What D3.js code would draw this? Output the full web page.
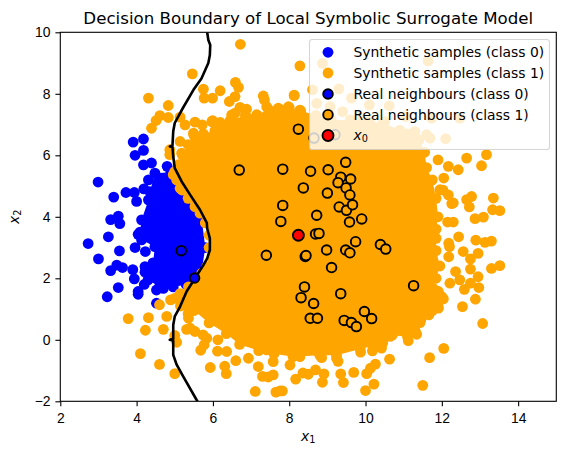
<!DOCTYPE html>
<html>
<head>
<meta charset="utf-8">
<script src="https://cdn.jsdelivr.net/npm/d3@7"></script>
<style>
  html, body { margin: 0; background: #fff; }
  svg { display: block; font-family: "DejaVu Sans", sans-serif; }
  .tick text { font-size: 13.9px; fill: #000; }
</style>
</head>
<body>
<svg id="chart" width="566" height="455"></svg>
<script>
// Outer edge of the overplotted class 0 mass, then its scattered samples
const blueRim = [[5.8,3.0],[5.7,4.0],[5.1,4.9],[4.9,5.45],[4.48,5.42],[4.35,4.82],[4.31,4.55],[4.13,3.9],[4.09,3.5],[4.13,3.25],[4.48,3.03],[4.43,2.5],[4.22,2.2],[4.3,1.95],[4.6,1.72],[4.96,1.72],[5.3,1.8],[5.7,2.2]];
const blueScatter = [[2.99,5.13],[3.40,4.64],[3.72,4.79],[3.94,4.79],[3.91,6.43],[4.18,6.53],[4.18,6.16],[3.96,6.0],[4.18,5.69],[4.39,5.75],[4.80,5.64],[4.31,5.2],[4.19,4.91],[4.0,4.5],[3.32,3.91],[3.52,4.02],[3.56,3.78],[2.73,3.13],[3.26,3.35],[3.55,2.89],[3.0,2.63],[3.96,3.0],[4.23,2.87],[3.48,2.43],[3.63,2.35],[3.32,2.25],[3.9,2.28],[3.94,1.98],[3.52,1.7],[3.23,1.4],[4.04,1.57],[4.04,1.48],[4.2,1.8],[4.52,1.62],[4.7,1.67],[4.52,1.19],[4.22,2.38],[4.04,3.43]];

// Outer edge of the overplotted class 1 mass, then its scattered samples
const orangeRim = [[5.9,3.0],[5.9,3.4],[5.8,3.8],[5.53,4.33],[5.35,4.6],[5.19,4.87],[5.05,5.2],[5.0,5.47],[5.1,5.7],[5.2,6.0],[5.35,6.35],[5.5,6.65],[5.75,6.7],[6.05,6.8],[6.3,6.95],[6.5,7.15],[6.85,7.3],[7.15,7.3],[7.45,7.5],[7.75,7.5],[8.0,7.55],[8.3,7.45],[8.7,7.3],[9.1,7.15],[9.6,7.15],[10.1,7.1],[10.46,7.05],[10.9,6.82],[11.4,6.5],[11.55,6.1],[11.6,5.6],[11.75,5.2],[11.85,4.6],[11.9,4.0],[11.85,3.6],[11.85,3.3],[11.85,2.9],[11.95,2.4],[11.85,2.0],[11.75,1.7],[11.85,1.6],[12.0,1.4],[11.9,1.1],[11.75,0.95],[11.45,0.65],[11.3,0.3],[11.1,0.1],[10.7,0.15],[10.45,-0.1],[10.2,-0.2],[9.86,-0.3],[9.24,-0.5],[8.8,-0.5],[8.1,-0.55],[7.6,-0.45],[7.2,-0.35],[6.7,-0.15],[6.35,0.2],[5.9,0.55],[5.5,0.95],[5.35,0.85],[5.15,1.1],[5.0,1.35],[5.14,1.5],[5.36,1.72],[5.71,2.17],[5.84,2.38]];
const orangeScatter = [[6.72,9.61],[5.46,8.65],[4.31,7.86],[4.83,7.62],[5.75,8.15],[6.19,8.1],[6.59,8.37],[6.67,8.21],[5.77,7.86],[5.99,7.86],[6.43,7.75],[6.58,7.91],[7.32,7.93],[7.35,7.8],[4.61,7.29],[4.51,7.13],[4.83,7.23],[4.39,6.88],[5.14,7.24],[5.27,6.99],[5.53,7.08],[5.72,6.99],[5.99,7.13],[6.19,7.07],[6.45,7.13],[6.58,7.37],[6.71,7.56],[6.88,7.5],[7.15,7.32],[6.88,7.24],[5.49,6.72],[5.14,6.45],[4.87,6.18],[4.87,6.02],[5.18,6.07],[5.84,6.56],[6.1,6.67],[5.4,6.29],[4.96,5.37],[5.14,4.93],[5.66,4.12],
  [5.97,7.09],[6.49,7.31],[7.41,7.58],[7.71,7.53],[7.98,7.58],[8.13,7.96],[8.28,7.47],[8.72,7.69],[9.07,7.58],[9.4,7.42],[9.86,7.26],[11.1,6.7],
  [8.28,8.91],[8.87,8.99],[11.64,9.07],[8.13,7.94],[8.61,8.13],[9.3,8.16],[9.63,7.86],[10.1,7.64],[10.62,7.61],[11.05,7.26],[11.73,7.21],[12.47,7.21],[10.5,7.1],[11.6,6.67],[12.1,6.54],[11.69,6.56],[11.29,6.77],[13.17,6.02],[12.65,5.91],[13.04,5.66],[11.9,5.85],[12.17,5.64],[12.43,5.53],[12.05,5.26],[11.95,4.88],[12.03,4.87],[12.17,4.71],[12.3,4.45],[12.3,3.83],[12.15,3.83],[12.78,4.66],[12.65,4.56],[13.35,4.61],[12.72,4.32],[12.26,4.43],[13.33,4.23],[13.52,4.2],[12.87,3.94],[13.09,3.99],
  [12.44,3.35],[12.89,3.24],[13.13,3.17],[13.3,3.21],[12.18,3.14],[12.2,3.03],[12.18,2.7],[12.56,2.87],[12.95,2.81],[12.75,2.63],[12.75,2.3],[13.3,2.32],[13.52,2.41],[12.95,2.05],[12.36,2.22],[12.21,1.84],[12.47,1.95],[12.75,1.84],[12.59,1.64],[12.97,1.7],[12.88,1.32],[12.54,1.08],[13.07,0.53],[12.05,-0.28],[11.68,-0.58],[11.5,-1.48],[10.63,-0.63],[10.42,-0.27],[10.18,-0.36],[9.87,-0.4],[10.26,-0.79],[10.13,-0.92],[10.03,-1.1],[9.69,-1.06],[10.22,-1.44],[10.0,-1.65],[9.42,-1.39],[9.35,-1.11],[9.28,-0.7],[9.24,-0.6],[8.87,-1.38],[8.91,-1.11],[8.69,-0.98],[8.5,-1.12],[8.36,-1.08],[8.17,-1.28],[7.82,-1.66],[8.85,-0.58],[11.34,0.18],[11.12,-0.03],[11.16,0.59],[11.43,0.56],[10.64,0.11],[10.9,0.32],[11.66,0.81],[11.91,1.03],[12.04,1.33],[11.91,1.57],
  [3.78,0.69],[4.31,0.72],[4.23,0.31],[4.6,1.14],[4.89,1.3],[4.79,0.76],[4.7,0.34],[5.0,0.14],[5.05,-0.08],[4.1,-0.45],[4.6,-0.8],[5.0,-1.1],[5.93,-0.9],[6.31,-0.86],[6.35,-1.1],[6.12,-0.37],[5.68,-0.34],[5.77,-0.16],[5.84,0.05],[5.53,0.27],[5.31,0.34],[5.36,0.7],[5.4,0.38],[5.74,0.16],[6.13,0],[6.36,-0.38],[6.6,-0.68],[6.93,-0.6],[7.19,-0.87],[7.3,-1.19],[7.45,-1.21],[7.58,-1.14],[7.11,-1.68],[7.65,-1.7],[7.76,-1.66],[7.58,-0.71],[7.41,-0.33],[8.02,-0.82],[8.28,-0.55]];

// Decision boundary traced from top to bottom
const boundary = [[5.85,10],[5.88,9.75],[5.93,9.59],[5.92,9.26],[5.88,9.0],[5.7,8.5],[5.49,8.13],[5.21,7.53],[5.09,7.26],[5.0,7.05],[4.96,6.78],[4.94,6.32],[4.87,6.29],[4.94,6.27],[4.96,5.96],[5.0,5.58],[5.18,5.15],[5.4,4.72],[5.66,4.23],[5.84,3.8],[5.85,3.62],[5.92,3.3],[5.92,2.92],[5.85,2.65],[5.75,2.43],[5.53,2.0],[5.31,1.57],[5.14,1.08],[5.0,0.76],[4.96,0.48],[4.96,0.03],[4.87,0],[4.96,-0.03],[4.96,-0.49],[5.05,-0.81],[5.22,-1.19],[5.57,-1.95],[5.6,-2]];

// Real neighbours and the instance being explained
const realClass0 = [[5.17,2.9],[5.52,2.01]];
const realClass1 = [[6.69,5.52],[7.83,5.55],[7.83,4.37],[7.78,3.85],[8.24,6.85],[8.65,6.56],[9.2,6.67],[8.56,5.48],[9.02,5.53],[9.48,5.77],[8.37,4.94],[9.0,4.77],[9.35,5.29],[9.28,5.11],[9.61,5.23],[9.49,4.94],[9.59,4.71],[9.31,4.32],[9.5,4.21],[9.66,4.39],[8.72,4.05],[9.9,3.93],[9.58,3.83],[8.69,3.44],[8.78,3.46],[8.98,2.92],[8.42,2.71],[8.44,2.74],[9.48,2.92],[9.59,2.83],[9.74,3.19],[10.39,3.1],[10.53,2.95],[9.11,2.35],[11.26,1.76],[8.4,1.72],[8.31,1.37],[9.35,1.5],[8.64,1.18],[9.97,0.92],[10.16,0.69],[9.44,0.63],[9.63,0.56],[9.76,0.43],[8.55,0.7],[8.74,0.7],[7.4,2.75]];
const instance = [[8.24,3.4]];

// Axis ticks and text
const xTicks = [2,4,6,8,10,12,14];
const yTicks = [-2,0,2,4,6,8,10];
const titleText = "Decision Boundary of Local Symbolic Surrogate Model";
const legendLabels = ["Synthetic samples (class 0)","Synthetic samples (class 1)","Real neighbours (class 0)","Real neighbours (class 1)"];

const BLUE = "#0000ff", ORANGE = "#ffa500", RED = "#ff0000";
const plotLeft = 60.3, plotRight = 556.3, plotTop = 32.3, plotBottom = 401.3;
const SAMPLE_R = 5.4, REAL_R = 4.8, X0_R = 5.5, EDGE_W = 1.9;

const svg = d3.select("#chart");
const xScale = d3.scaleLinear().domain([2,15]).range([plotLeft,plotRight]);
const yScale = d3.scaleLinear().domain([-2,10]).range([plotBottom,plotTop]);

svg.append("clipPath").attr("id","plot-area").append("rect")
  .attr("x",plotLeft).attr("y",plotTop).attr("width",plotRight-plotLeft).attr("height",plotBottom-plotTop);

const plot = svg.append("g").attr("clip-path","url(#plot-area)");
const toPath = d3.line().x(d => xScale(d[0])).y(d => yScale(d[1]));

function dots(data, fill, r, stroke, sw) {
  plot.append("g").selectAll("circle").data(data).join("circle")
    .attr("cx", d => xScale(d[0])).attr("cy", d => yScale(d[1])).attr("r", r)
    .attr("fill", fill)
    .attr("stroke", stroke || "none")
    .attr("stroke-width", sw || 0);
}
function mass(rim, fill) {
  plot.append("path").attr("d", toPath(rim) + "Z").attr("fill", fill);
}

// Class 0 samples sit below class 1 samples
mass(blueRim, BLUE);
dots(blueRim, BLUE, SAMPLE_R);
dots(blueScatter, BLUE, SAMPLE_R);
mass(orangeRim, ORANGE);
dots(orangeRim, ORANGE, SAMPLE_R);
dots(orangeScatter, ORANGE, SAMPLE_R);

plot.append("path").attr("d", toPath(boundary))
  .attr("fill","none").attr("stroke","#000").attr("stroke-width",2.6)
  .attr("stroke-linejoin","round");

dots(realClass0, BLUE, REAL_R, "#000", EDGE_W);
dots(realClass1, ORANGE, REAL_R, "#000", EDGE_W);
dots(instance, RED, X0_R, "#000", EDGE_W);

// Axes
const xAxis = svg.append("g").attr("transform",`translate(0,${plotBottom})`)
  .call(d3.axisBottom(xScale).tickValues(xTicks).tickFormat(d3.format("d")).tickSize(4.9).tickPadding(4.9));
const yAxis = svg.append("g").attr("transform",`translate(${plotLeft},0)`)
  .call(d3.axisLeft(yScale).tickValues(yTicks).tickFormat(d3.format("d")).tickSize(4.9).tickPadding(4.9));
[xAxis, yAxis].forEach(a => {
  a.selectAll("path.domain").remove();
  a.selectAll("line").attr("stroke","#000").attr("stroke-width",1.1);
});
xAxis.selectAll("text").attr("dy","0.87em");

svg.append("rect").attr("x",plotLeft).attr("y",plotTop).attr("width",plotRight-plotLeft).attr("height",plotBottom-plotTop)
  .attr("fill","none").attr("stroke","#000").attr("stroke-width",1.1);

// Title and axis labels
svg.append("text").attr("x",(plotLeft+plotRight)/2).attr("y",24).attr("text-anchor","middle")
  .attr("font-size",16.67).text(titleText);

function mathLabel(sel, base, sub, size) {
  sel.append("tspan").attr("font-style","italic").attr("font-size",size).text(base);
  sel.append("tspan").attr("font-size",size*0.7).attr("dy",size*0.15).text(sub);
}
const xLabel = svg.append("text").attr("x",(plotLeft+plotRight)/2).attr("y",441).attr("text-anchor","middle");
mathLabel(xLabel,"x","1",13.9);
const yLabel = svg.append("text").attr("text-anchor","middle")
  .attr("transform",`translate(18.5,${(plotTop+plotBottom)/2}) rotate(-90)`);
mathLabel(yLabel,"x","2",13.9);

// Legend
const legend = svg.append("g");
legend.append("rect").attr("x",309.5).attr("y",39.5).attr("width",240).attr("height",110).attr("rx",2.8)
  .attr("fill","#fff").attr("fill-opacity",0.8).attr("stroke","#cccccc").attr("stroke-opacity",0.8).attr("stroke-width",1.1);
const legendRows = [52.3,73,94,114.7,135.5];
const legendMarks = [
  {fill:BLUE,r:SAMPLE_R},{fill:ORANGE,r:SAMPLE_R},
  {fill:BLUE,r:REAL_R,edge:true},{fill:ORANGE,r:REAL_R,edge:true},
  {fill:RED,r:X0_R,edge:true}
];
legendMarks.forEach((m,i) => {
  legend.append("circle").attr("cx",328).attr("cy",legendRows[i]).attr("r",m.r).attr("fill",m.fill)
    .attr("stroke",m.edge ? "#000" : "none").attr("stroke-width",m.edge ? EDGE_W : 0);
});
legendLabels.forEach((t,i) => {
  legend.append("text").attr("x",353.5).attr("y",legendRows[i]+5).attr("font-size",13.9).text(t);
});
const x0Label = legend.append("text").attr("x",353.5).attr("y",legendRows[4]+4);
mathLabel(x0Label,"x","0",13.9);
</script>
</body>
</html>
